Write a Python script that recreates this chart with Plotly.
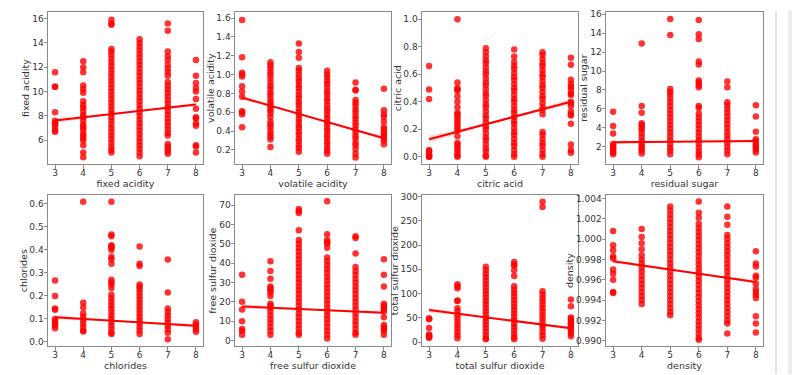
import plotly.graph_objects as go

# ---------------- data ----------------
quality_levels = [3, 4, 5, 6, 7, 8]

# fixed acidity by quality
fa_q3 = [11.6, 10.4, 10.4, 8.3, 7.6, 7.4, 7.3, 7.1, 6.8, 6.7]
fa_q4 = [12.5, 12.0, 11.6, 10.5, 10.2, 9.9, 9.2, 8.9, 8.7, 8.4, 8.1, 7.9, 7.6, 7.3, 7.1, 6.9, 6.6, 6.4, 6.2, 6.0, 5.6, 5.0, 4.6]
fa_q5 = [15.9, 15.6, 15.5, 13.5, 13.3, 13.0, 12.7, 12.4, 12.1, 11.8, 11.5, 11.2, 10.9, 10.6, 10.3, 10.0, 9.7, 9.4, 9.1, 8.8, 8.5, 8.2, 7.9, 7.6, 7.3, 7.0, 6.7, 6.4, 6.1, 5.8, 5.5, 5.2, 5.0]
fa_q6 = [14.3, 14.0, 13.7, 13.4, 13.1, 12.8, 12.5, 12.2, 11.9, 11.6, 11.3, 11.0, 10.7, 10.4, 10.1, 9.8, 9.5, 9.2, 8.9, 8.6, 8.3, 8.0, 7.7, 7.4, 7.1, 6.8, 6.5, 6.2, 5.9, 5.6, 5.3, 5.0, 4.7]
fa_q7 = [15.6, 15.0, 13.3, 12.9, 12.6, 12.2, 11.9, 11.6, 11.3, 10.8, 10.5, 10.2, 9.9, 9.6, 9.3, 9.0, 8.7, 8.4, 8.1, 7.8, 7.5, 7.2, 6.9, 6.6, 6.4, 5.7, 5.5, 5.3, 5.1, 4.9]
fa_q8 = [12.6, 11.3, 10.7, 10.3, 10.0, 9.4, 8.6, 7.9, 7.8, 7.4, 7.2, 5.6, 5.5, 5.0]

# volatile acidity by quality
va_q3 = [1.58, 1.185, 1.02, 1.0, 0.98, 0.875, 0.82, 0.765, 0.61, 0.6, 0.58, 0.44]
va_q4 = [1.13, 1.1, 1.07, 1.03, 1.0, 0.96, 0.92, 0.88, 0.85, 0.81, 0.78, 0.74, 0.71, 0.68, 0.65, 0.62, 0.59, 0.55, 0.5, 0.47, 0.44, 0.4, 0.37, 0.34, 0.31, 0.23]
va_q5 = [1.33, 1.24, 1.18, 1.07, 1.04, 1.0, 0.96, 0.93, 0.89, 0.86, 0.82, 0.78, 0.75, 0.71, 0.68, 0.64, 0.6, 0.57, 0.53, 0.5, 0.46, 0.43, 0.39, 0.36, 0.32, 0.29, 0.25, 0.22, 0.18]
va_q6 = [1.04, 1.0, 0.97, 0.93, 0.9, 0.86, 0.82, 0.79, 0.75, 0.72, 0.68, 0.64, 0.61, 0.57, 0.54, 0.5, 0.47, 0.43, 0.4, 0.36, 0.33, 0.29, 0.26, 0.22, 0.19, 0.16]
va_q7 = [0.915, 0.84, 0.83, 0.73, 0.7, 0.67, 0.63, 0.6, 0.56, 0.53, 0.49, 0.46, 0.42, 0.39, 0.35, 0.32, 0.28, 0.25, 0.21, 0.16, 0.12]
va_q8 = [0.85, 0.62, 0.58, 0.55, 0.5, 0.44, 0.42, 0.39, 0.37, 0.35, 0.32, 0.3, 0.26]

# citric acid by quality
ca_q3 = [0.66, 0.49, 0.42, 0.05, 0.04, 0.02, 0.01, 0.0, 0.0]
ca_q4 = [1.0, 0.54, 0.5, 0.49, 0.48, 0.44, 0.4, 0.36, 0.32, 0.31, 0.29, 0.27, 0.25, 0.23, 0.21, 0.19, 0.15, 0.1, 0.09, 0.07, 0.05, 0.03, 0.01, 0.0]
ca_q5 = [0.79, 0.76, 0.73, 0.7, 0.68, 0.65, 0.62, 0.6, 0.57, 0.54, 0.52, 0.49, 0.46, 0.44, 0.41, 0.38, 0.36, 0.33, 0.3, 0.28, 0.25, 0.22, 0.2, 0.17, 0.14, 0.12, 0.09, 0.06, 0.04, 0.01, 0.0]
ca_q6 = [0.78, 0.73, 0.69, 0.66, 0.64, 0.61, 0.58, 0.56, 0.53, 0.5, 0.48, 0.45, 0.42, 0.4, 0.37, 0.34, 0.32, 0.29, 0.26, 0.24, 0.21, 0.18, 0.16, 0.13, 0.1, 0.08, 0.05, 0.02, 0.0]
ca_q7 = [0.76, 0.74, 0.71, 0.68, 0.66, 0.63, 0.6, 0.58, 0.55, 0.52, 0.5, 0.47, 0.44, 0.42, 0.39, 0.36, 0.34, 0.31, 0.18, 0.16, 0.13, 0.1, 0.08, 0.05, 0.02, 0.0]
ca_q8 = [0.72, 0.67, 0.56, 0.53, 0.51, 0.49, 0.46, 0.45, 0.4, 0.39, 0.37, 0.33, 0.31, 0.3, 0.24, 0.09, 0.05, 0.03]

# residual sugar by quality
rs_q3 = [5.7, 4.2, 3.4, 2.3, 2.1, 1.9, 1.8, 1.6, 1.4, 1.2]
rs_q4 = [12.9, 6.3, 5.6, 4.5, 4.3, 4.0, 3.8, 3.4, 3.0, 2.6, 2.3, 2.0, 1.8, 1.6, 1.3]
rs_q5 = [15.5, 13.8, 8.1, 7.8, 7.5, 7.1, 6.7, 6.3, 5.9, 5.5, 5.1, 4.7, 4.3, 3.9, 3.5, 3.1, 2.7, 2.3, 1.9, 1.6, 1.2]
rs_q6 = [15.4, 13.9, 13.4, 11.0, 10.7, 9.0, 8.8, 8.5, 8.3, 6.3, 6.1, 5.5, 5.1, 4.7, 4.3, 3.9, 3.5, 3.1, 2.7, 2.3, 1.9, 1.5, 1.2, 0.9]
rs_q7 = [8.9, 8.3, 6.7, 6.4, 6.0, 5.6, 5.2, 4.8, 4.4, 4.0, 3.6, 3.2, 2.8, 2.4, 2.0, 1.6, 1.2]
rs_q8 = [6.4, 5.2, 3.6, 2.8, 2.6, 2.3, 2.1, 1.9, 1.7, 1.4]

# chlorides by quality
cl_q3 = [0.267, 0.2, 0.145, 0.14, 0.1, 0.09, 0.08, 0.07, 0.06]
cl_q4 = [0.61, 0.17, 0.15, 0.125, 0.11, 0.095, 0.08, 0.065, 0.05, 0.045]
cl_q5 = [0.61, 0.467, 0.46, 0.42, 0.415, 0.41, 0.4, 0.37, 0.36, 0.34, 0.27, 0.26, 0.25, 0.235, 0.205, 0.19, 0.175, 0.16, 0.145, 0.13, 0.115, 0.1, 0.085, 0.07, 0.055, 0.04, 0.035]
cl_q6 = [0.415, 0.34, 0.33, 0.25, 0.24, 0.23, 0.215, 0.2, 0.185, 0.17, 0.155, 0.14, 0.125, 0.11, 0.095, 0.08, 0.065, 0.05, 0.035]
cl_q7 = [0.358, 0.215, 0.145, 0.13, 0.115, 0.1, 0.085, 0.07, 0.055, 0.04, 0.012]
cl_q8 = [0.086, 0.075, 0.065, 0.055, 0.044]

# free sulfur dioxide by quality
fs_q3 = [34, 20, 16, 10, 6, 5, 3]
fs_q4 = [41, 36, 32, 28, 27, 26, 25, 23, 19, 18, 17, 15, 13, 11, 9, 7, 5, 3]
fs_q5 = [68, 67, 66, 57, 52, 50, 48, 46, 44, 42, 40, 38, 36, 34, 32, 30, 28, 26, 24, 22, 20, 18, 16, 14, 12, 10, 8, 6, 4, 3]
fs_q6 = [72, 55, 52, 51, 50, 48, 43, 41, 39, 37, 35, 33, 31, 29, 27, 25, 23, 21, 19, 17, 15, 13, 11, 9, 7, 5, 3, 1]
fs_q7 = [54, 53, 45, 38, 36, 34, 32, 30, 28, 26, 24, 22, 20, 18, 16, 14, 12, 10, 8, 6, 4, 3]
fs_q8 = [42, 34, 28, 19, 18, 17, 16, 15, 12, 8, 7, 6, 5, 3]

# total sulfur dioxide by quality
ts_q3 = [49, 47, 29, 16, 14, 12, 10, 9]
ts_q4 = [119, 115, 111, 86, 85, 70, 63, 56, 49, 42, 35, 28, 21, 14, 8]
ts_q5 = [155, 148, 141, 134, 127, 120, 113, 106, 99, 92, 85, 78, 71, 64, 57, 50, 43, 36, 29, 22, 15, 8, 6]
ts_q6 = [165, 160, 158, 148, 136, 115, 108, 101, 94, 87, 80, 73, 66, 59, 52, 45, 38, 31, 24, 17, 10, 6]
ts_q7 = [289, 278, 105, 98, 91, 84, 77, 70, 63, 56, 49, 42, 35, 28, 21, 14, 7]
ts_q8 = [88, 74, 51, 48, 44, 40, 38, 33, 28, 23, 18, 12]

# density by quality
de_q3 = [1.0008, 0.9994, 0.9989, 0.9983, 0.9981, 0.9970, 0.9966, 0.9960, 0.9948, 0.9947]
de_q4 = [1.0010, 1.0002, 0.9996, 0.9990, 0.9984, 0.9980, 0.9976, 0.9972, 0.9968, 0.9964, 0.9960, 0.9956, 0.9952, 0.9948, 0.9944, 0.9940, 0.9936]
de_q5 = [1.0032, 1.0028, 1.0024, 1.0020, 1.0016, 1.0012, 1.0008, 1.0004, 1.0000, 0.9996, 0.9992, 0.9988, 0.9984, 0.9980, 0.9976, 0.9972, 0.9968, 0.9964, 0.9960, 0.9956, 0.9952, 0.9948, 0.9944, 0.9940, 0.9936, 0.9932, 0.9928, 0.9925]
de_q6 = [1.0037, 1.0026, 1.0021, 1.0015, 1.0011, 1.0007, 1.0003, 0.9999, 0.9995, 0.9991, 0.9987, 0.9983, 0.9979, 0.9975, 0.9971, 0.9967, 0.9963, 0.9959, 0.9955, 0.9951, 0.9947, 0.9943, 0.9939, 0.9935, 0.9931, 0.9927, 0.9923, 0.9919, 0.9915, 0.9911, 0.9907, 0.9903, 0.9901]
de_q7 = [1.0032, 1.0022, 1.0014, 1.0004, 1.0000, 0.9996, 0.9992, 0.9988, 0.9984, 0.9980, 0.9976, 0.9972, 0.9968, 0.9964, 0.9960, 0.9956, 0.9952, 0.9948, 0.9944, 0.9940, 0.9936, 0.9932, 0.9928, 0.9924, 0.9920, 0.9917, 0.9907]
de_q8 = [0.9988, 0.9976, 0.9973, 0.9964, 0.9962, 0.9956, 0.9951, 0.9948, 0.9945, 0.9942, 0.9924, 0.9917, 0.9908]

# regression line values at quality 3 and quality 8
fa_fit = [7.62, 8.95]
va_fit = [0.755, 0.324]
ca_fit = [0.127, 0.400]
rs_fit = [2.48, 2.60]
cl_fit = [0.107, 0.070]
fs_fit = [17.6, 14.3]
ts_fit = [66.3, 28.7]
de_fit = [0.99782, 0.99578]

# confidence band half-widths at quality 3..8
fa_ci = [0.19, 0.11, 0.05, 0.05, 0.09, 0.16]
va_ci = [0.024, 0.014, 0.007, 0.007, 0.012, 0.021]
ca_ci = [0.025, 0.015, 0.007, 0.007, 0.012, 0.021]
rs_ci = [0.24, 0.14, 0.07, 0.07, 0.12, 0.21]
cl_ci = [0.010, 0.006, 0.003, 0.003, 0.005, 0.009]
fs_ci = [1.2, 0.7, 0.35, 0.35, 0.6, 1.0]
ts_ci = [4.7, 2.8, 1.4, 1.4, 2.4, 4.1]
de_ci = [0.00022, 0.00013, 0.00007, 0.00007, 0.00011, 0.00019]

variable_names = ["fixed acidity", "volatile acidity", "citric acid", "residual sugar",
                  "chlorides", "free sulfur dioxide", "total sulfur dioxide", "density"]

# ---------------- figure ----------------
# page body adds an 8px margin, so the figure is 8px smaller and positions shift by 8px
OFF = 8
W, H = 800 - OFF, 375 - OFF


def px_x(v):
    return (v - OFF) / W


def px_y(v):
    return 1 - (v - OFF) / H


panels = [
    (variable_names[0], [fa_q3, fa_q4, fa_q5, fa_q6, fa_q7, fa_q8], fa_fit, fa_ci, [4.03, 16.54], 2, None),
    (variable_names[1], [va_q3, va_q4, va_q5, va_q6, va_q7, va_q8], va_fit, va_ci, [0.047, 1.665], 0.2, ".1f"),
    (variable_names[2], [ca_q3, ca_q4, ca_q5, ca_q6, ca_q7, ca_q8], ca_fit, ca_ci, [-0.055, 1.053], 0.2, ".1f"),
    (variable_names[3], [rs_q3, rs_q4, rs_q5, rs_q6, rs_q7, rs_q8], rs_fit, rs_ci, [0.15, 16.24], 2, None),
    (variable_names[4], [cl_q3, cl_q4, cl_q5, cl_q6, cl_q7, cl_q8], cl_fit, cl_ci, [-0.019, 0.639], 0.1, ".1f"),
    (variable_names[5], [fs_q3, fs_q4, fs_q5, fs_q6, fs_q7, fs_q8], fs_fit, fs_ci, [-3.0, 75.3], 10, None),
    (variable_names[6], [ts_q3, ts_q4, ts_q5, ts_q6, ts_q7, ts_q8], ts_fit, ts_ci, [-8.5, 303], 50, None),
    (variable_names[7], [de_q3, de_q4, de_q5, de_q6, de_q7, de_q8], de_fit, de_ci, [0.98945, 1.00434], 0.002, ".3f"),
]

# plot boxes in window pixels: (left, right) per column, (top, bottom) per row
col_px = [(48, 203), (235, 391), (422, 578), (606, 763)]
row_px = [(9, 163), (194, 347)]

RED = "rgba(255,0,0,0.8)"
FONT = "DejaVu Sans"
TXT = "#333333"
SPINE = "#8a8a8a"

fig = go.Figure()
layout_axes = {}
for i, (name, cols, fit, ci, yr, dt, fmt) in enumerate(panels):
    r, c = divmod(i, 4)
    n = "" if i == 0 else str(i + 1)
    xa, ya = "x" + n, "y" + n
    xs, ys = [], []
    for q, vals in zip(quality_levels, cols):
        xs += [q] * len(vals)
        ys += vals
    fig.add_trace(go.Scatter(x=xs, y=ys, mode="markers", xaxis=xa, yaxis=ya,
                             marker=dict(color=RED, size=6.5, line=dict(width=0)),
                             showlegend=False, hoverinfo="skip"))
    q0, q1 = quality_levels[0], quality_levels[-1]
    line_vals = [fit[0] + (fit[1] - fit[0]) * (q - q0) / (q1 - q0) for q in quality_levels]
    lower = [v - h for v, h in zip(line_vals, ci)]
    upper = [v + h for v, h in zip(line_vals, ci)]
    fig.add_trace(go.Scatter(x=quality_levels, y=lower, mode="lines", xaxis=xa, yaxis=ya,
                             line=dict(width=0, color="rgba(255,0,0,0)"), showlegend=False,
                             hoverinfo="skip"))
    fig.add_trace(go.Scatter(x=quality_levels, y=upper, mode="lines", xaxis=xa, yaxis=ya,
                             line=dict(width=0, color="rgba(255,0,0,0)"), fill="tonexty",
                             fillcolor="rgba(255,0,0,0.15)", showlegend=False, hoverinfo="skip"))
    fig.add_trace(go.Scatter(x=[q0, q1], y=fit, mode="lines", xaxis=xa, yaxis=ya,
                             line=dict(color="rgb(255,0,0)", width=2), showlegend=False,
                             hoverinfo="skip"))

    left, right = col_px[c]
    top, bottom = row_px[r]
    common = dict(showline=True, mirror=True, linecolor=SPINE, linewidth=1,
                  ticks="outside", ticklen=3.5, tickwidth=1, tickcolor=SPINE,
                  showgrid=False, zeroline=False,
                  tickfont=dict(family=FONT, size=9, color=TXT))
    layout_axes["xaxis" + n] = dict(
        domain=[px_x(left), px_x(right)], anchor=ya, range=[2.75, 8.25],
        tickmode="array", tickvals=quality_levels, ticktext=[str(q) for q in quality_levels],
        ticklabelstandoff=-4,
        title=dict(text=name, font=dict(family=FONT, size=9.5, color=TXT), standoff=0),
        **common)
    ydict = dict(domain=[px_y(bottom), px_y(top)], anchor=xa, range=yr,
                 tickmode="linear", tick0=0, dtick=dt, ticklabelstandoff=-2,
                 title=dict(text=name, font=dict(family=FONT, size=9.5, color=TXT), standoff=0),
                 **common)
    if fmt:
        ydict["tickformat"] = fmt
    layout_axes["yaxis" + n] = ydict

fig.update_layout(
    width=W, height=H, margin=dict(l=0, r=0, t=0, b=0),
    paper_bgcolor="white", plot_bgcolor="white",
    shapes=[
        dict(type="rect", xref="paper", yref="paper", x0=px_x(775), x1=px_x(777), y0=0, y1=1,
             fillcolor="#e4e4e4", line=dict(width=0), layer="below"),
        dict(type="rect", xref="paper", yref="paper", x0=px_x(788), x1=1, y0=0, y1=1,
             fillcolor="#ececec", line=dict(width=0), layer="below"),
    ],
    **layout_axes,
)

fig.write_html("out.html")
